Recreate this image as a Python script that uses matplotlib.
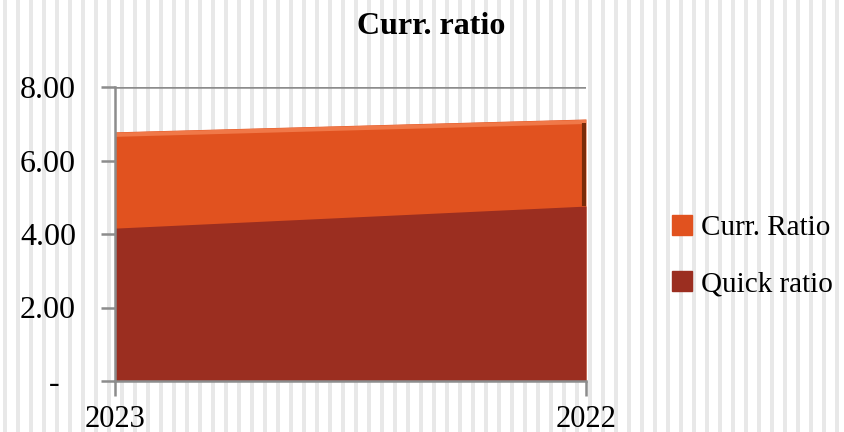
import matplotlib
matplotlib.use("Agg")
import matplotlib.pyplot as plt
import numpy as np
from matplotlib.patches import Rectangle

years = ["2023", "2022"]
curr_ratio = [6.78, 7.13]
quick_ratio = [4.16, 4.76]
ytick_vals = [0, 2, 4, 6, 8]
ytick_labels = ["-  ", "2.00", "4.00", "6.00", "8.00"]
title = "Curr. ratio"

c_curr = "#E1521F"
c_quick = "#9B2E20"
serif = ["Liberation Serif", "DejaVu Serif"]

fig = plt.figure(figsize=(8.45, 4.32), dpi=100)

# striped background
bg = fig.add_axes([0, 0, 1, 1], zorder=-10)
bg.set_xlim(0, 845)
bg.set_ylim(0, 432)
bg.axis("off")
for x0 in np.arange(3, 845, 13):
    bg.add_patch(Rectangle((x0, 0), 4, 432, color="#e8e8e8", lw=0))

ax = fig.add_axes([115 / 845, 1 - 381 / 432, (586 - 115) / 845, (381 - 87) / 432])
ax.patch.set_alpha(0)
x = np.arange(len(years))

ax.fill_between(x, 0, curr_ratio, color=c_curr, lw=0, zorder=2)
ax.fill_between(x, 0, quick_ratio, color=c_quick, lw=0, zorder=3)
# bevel highlights
ax.plot(x, np.array(curr_ratio) - 0.08, color="#F07848", lw=3, zorder=2.5, solid_capstyle="butt")
ax.plot([x[-1] - 0.005, x[-1] - 0.005], [quick_ratio[-1], curr_ratio[-1] - 0.1],
        color="#7A2A08", lw=3, zorder=2.5, solid_capstyle="butt")

ax.set_xlim(x[0], x[-1])
ax.set_ylim(0, 8)
ax.set_yticks(ytick_vals)
ax.set_yticklabels(ytick_labels, fontfamily=serif, fontsize=23)
ax.set_xticks(x)
ax.set_xticklabels(years, fontfamily=serif, fontsize=22)
ax.yaxis.grid(True, color="#8c8c8c", lw=1.8, zorder=1)
ax.set_axisbelow(True)
for s in ["top", "right"]:
    ax.spines[s].set_visible(False)
for s in ["left", "bottom"]:
    ax.spines[s].set_color("#8c8c8c")
    ax.spines[s].set_linewidth(1.8)
    ax.spines[s].set_zorder(5)
ax.tick_params(axis="y", length=10, width=1.8, color="#8c8c8c", pad=18)
ax.tick_params(axis="x", length=11, width=1.8, color="#8c8c8c", pad=6)

fig.text(431 / 845, 1 - 27 / 432, title, ha="center", va="center",
         fontfamily=serif, fontsize=23, fontweight="bold")

handles = [Rectangle((0, 0), 1, 1, color=c_curr), Rectangle((0, 0), 1, 1, color=c_quick)]
leg = fig.legend(handles, ["Curr. Ratio", "Quick ratio"], loc="center left",
                 bbox_to_anchor=(660 / 845, 1 - 256 / 432), frameon=False,
                 prop={"family": serif, "size": 21}, handlelength=0.7, handleheight=0.7,
                 handletextpad=0.3, labelspacing=1.0, borderpad=0.2, borderaxespad=0.2)

fig.savefig("out.png", dpi=100)
